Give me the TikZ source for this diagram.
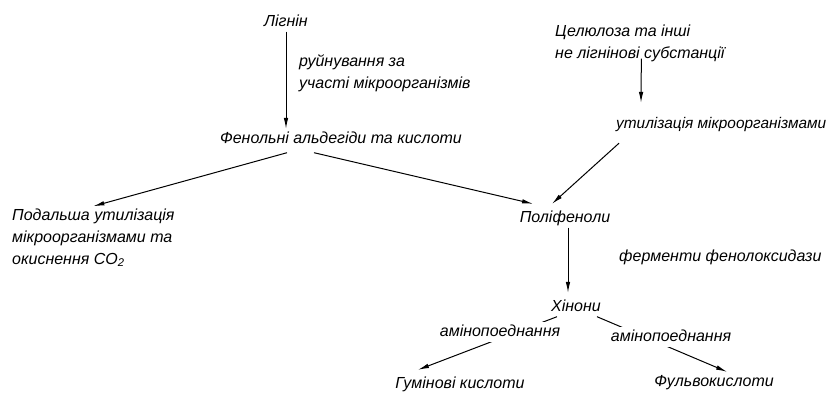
\documentclass[tikz,border=0pt]{standalone}
\usepackage{fontspec}
\setmainfont{Liberation Sans}
\usepackage{tikz}
\usetikzlibrary{arrows.meta, positioning, backgrounds}

\begin{document}
\begin{tikzpicture}[
    x=1pt, y=-1pt,
    txt/.style={inner sep=2pt, text height=12pt, text depth=3.5pt,
                font=\fontsize{16}{22}\selectfont\itshape},
    multi/.style={inner sep=2pt, align=left, anchor=base west,
                font=\fontsize{16}{22}\selectfont\itshape},
    lbl/.style={txt, fill=white},
    arrow/.style={-{Latex[length=11pt, width=4.5pt]}, line width=1pt}
]
\useasboundingbox (0,0) rectangle (830,392);

%% Left branch
\node[txt, anchor=base] (lignin) at (286,26) {Лігнін};
\node[multi] (ruin) at (297,88) {руйнування за\\участі мікроорганізмів};
\node[txt, anchor=base] (phenald) at (341,143) {Фенольні альдегіди та кислоти};
\node[multi] (further) at (10,264) {Подальша утилізація\\мікроорганізмами та\\окиснення CO\textsubscript{2}};

%% Right branch
\node[multi] (cellul) at (553,58) {Целюлоза та інші\\не лігнінові субстанції};
\node[txt, anchor=base west, font=\fontsize{15.4}{22}\selectfont\itshape] (utiliz) at (614,128) {утилізація мікроорганізмами};

%% Polyphenols and quinones
\node[txt, anchor=base] (polyph) at (565,222) {Поліфеноли};
\node[txt, anchor=base west] (ferment) at (617,261) {ферменти фенолоксидази};
\node[txt, anchor=base] (quinon) at (576,311) {Хінони};
\node[lbl, anchor=base] (amino1) at (500,336) {амінопоеднання};
\node[lbl, anchor=base] (amino2) at (671,341) {амінопоеднання};
\node[txt, anchor=base] (humic) at (460,388) {Гумінові кислоти};
\node[txt, anchor=base] (fulvic) at (714,386) {Фульвокислоти};

%% Arrows
\begin{scope}[on background layer]
\draw[arrow] (lignin.south) -- (lignin.south |- phenald.north);
\draw[arrow] ([xshift=-54pt, yshift=-4pt]phenald.south) -- (further.north);
\draw[arrow] ([xshift=-27pt, yshift=-4pt]phenald.south) -- ([xshift=-32pt, yshift=4pt]polyph.north);
\draw[arrow] ([xshift=1.5pt, yshift=5pt]cellul.south) -- ([xshift=27pt, yshift=11pt]utiliz.north west);
\draw[arrow] ([xshift=5pt, yshift=-9.5pt]utiliz.south west) -- ([xshift=-13pt, yshift=4pt]polyph.north);
\draw[arrow] ([xshift=3pt]polyph.south) -- ([xshift=-8pt, yshift=4pt]quinon.north);
\draw[arrow] ([xshift=-19pt]quinon.south) -- ([xshift=-42pt, yshift=4pt]humic.north);
\draw[arrow] ([xshift=21pt]quinon.south) -- ([xshift=13pt]fulvic.north);
\end{scope}

\end{tikzpicture}
\end{document}
